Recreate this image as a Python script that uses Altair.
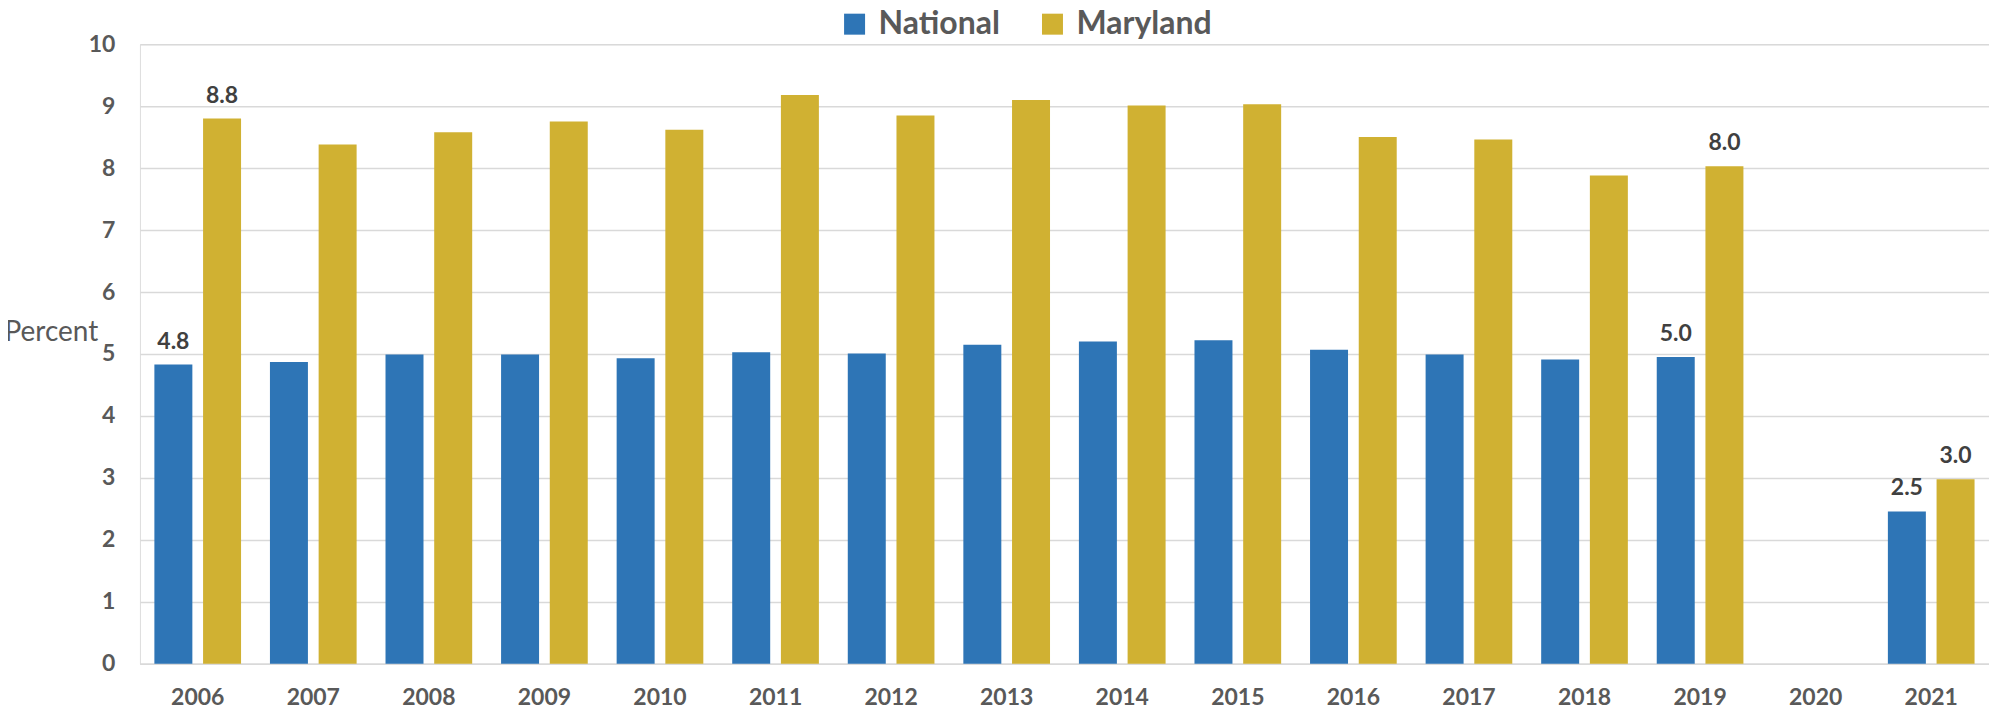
import altair as alt
import pandas as pd

years = ["2006", "2007", "2008", "2009", "2010", "2011", "2012", "2013",
         "2014", "2015", "2016", "2017", "2018", "2019", "2020", "2021"]
national = [4.83, 4.87, 4.99, 4.99, 4.93, 5.03, 5.01, 5.15,
            5.20, 5.22, 5.07, 4.99, 4.91, 4.95, None, 2.46]
maryland = [8.80, 8.38, 8.58, 8.75, 8.62, 9.18, 8.85, 9.10,
            9.01, 9.03, 8.50, 8.46, 7.88, 8.03, None, 2.98]
series = ["National", "Maryland"]
colors = ["#2E75B6", "#D0B132"]
label_years = ["2006", "2019", "2021"]

rows = []
for i, y in enumerate(years):
    for s, vals in zip(series, [national, maryland]):
        v = vals[i]
        rows.append({
            "year": y,
            "series": s,
            "value": v,
            "label": (f"{v:.1f}" if (v is not None and y in label_years) else ""),
        })
df = pd.DataFrame(rows)

FONT = "Lato"

x_enc = alt.X("year:N", sort=years,
              scale=alt.Scale(domain=years, paddingInner=0.25, paddingOuter=0.125),
              axis=alt.Axis(title=None, labelFontSize=23, labelFontWeight="bold",
                            labelColor="#595959", labelFont=FONT, ticks=False,
                            domain=True, domainColor="#d9d9d9", domainWidth=1.5,
                            labelPadding=34, labelBaseline="middle", labelAngle=0))
xo_enc = alt.XOffset("series:N", sort=series,
                     scale=alt.Scale(domain=series, paddingInner=0.22, paddingOuter=0))

bars = alt.Chart(df).mark_bar().encode(
    x=x_enc,
    xOffset=xo_enc,
    y=alt.Y("value:Q",
            scale=alt.Scale(domain=[0, 10], nice=False),
            axis=alt.Axis(values=list(range(0, 11)), format="d", title="Percent",
                          titleAngle=0, titleAlign="left", titleBaseline="middle",
                          titleX=-136, titleY=288, titleFontSize=28,
                          titleFontWeight="normal", titleColor="#595959", titleFont=FONT,
                          labelFontSize=23, labelFontWeight="bold", labelColor="#595959",
                          labelFont=FONT, labelPadding=25, ticks=False, domain=False,
                          grid=True, gridColor="#d9d9d9", gridWidth=1.5)),
    color=alt.Color("series:N", sort=series,
                    scale=alt.Scale(domain=series, range=colors),
                    legend=alt.Legend(title=None, orient="none", direction="horizontal",
                                      legendX=699, legendY=-36, symbolType="square",
                                      symbolSize=441, symbolStrokeWidth=0,
                                      symbolOpacity=1,
                                      labelFontSize=32, labelFontWeight="bold",
                                      labelColor="#595959", labelFont=FONT,
                                      labelOffset=8, columnPadding=36)),
)

labels = alt.Chart(df).transform_filter(alt.datum.label != "").mark_text(
    fontSize=23, fontWeight="bold", color="#404040", font=FONT,
    baseline="alphabetic", dy=-16,
).encode(
    x=alt.X("year:N", sort=years),
    xOffset=alt.XOffset("series:N", sort=series),
    y=alt.Y("value:Q"),
    text="label:N",
)

chart = alt.layer(bars, labels).properties(
    width=1850, height=620,
    padding={"left": 132, "top": 36, "right": 0, "bottom": 50},
    autosize=alt.AutoSizeParams(type="none"),
).configure_view(stroke=None).configure(background="white")

chart.save("out.html", embed_options={"renderer": "svg", "actions": False})
